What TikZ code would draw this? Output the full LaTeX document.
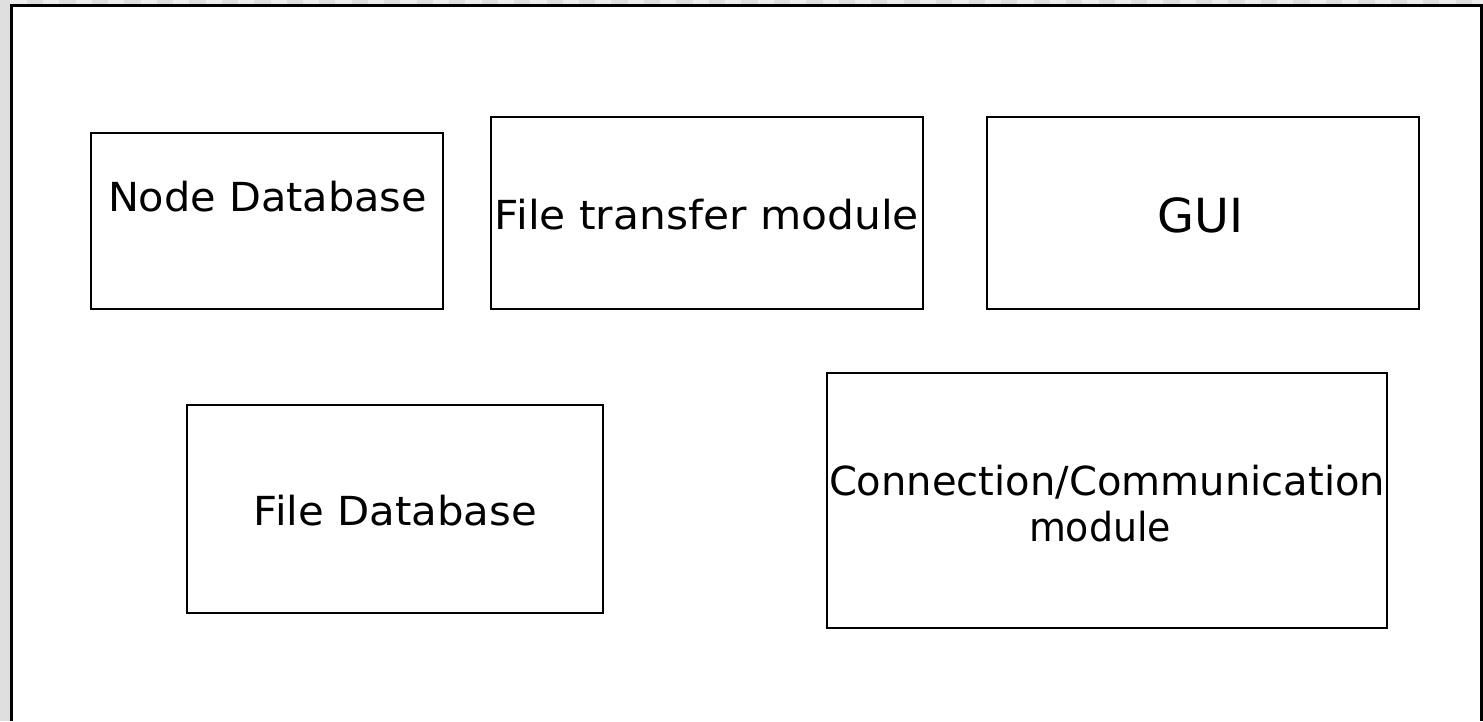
\documentclass[tikz,border=0pt]{standalone}
\usepackage{fontspec}
\usepackage{graphicx}
\newfontfamily\boxfont{DejaVu Sans}
% set a line of text at its natural height, stretched to a given width
\newcommand\linewd[2]{\resizebox{#1pt}{\height}{#2}}
\definecolor{chkdark}{HTML}{DEDEDE}
\definecolor{chklight}{HTML}{ECECEC}
\begin{document}
\begin{tikzpicture}[x=1pt,y=-1pt,
  module/.style={draw=black, line width=2.4pt, fill=white, rectangle, inner sep=0pt},
  lbl/.style={anchor=base, inner sep=0pt, font=\boxfont\fontsize{40}{48}\selectfont},
  biglbl/.style={anchor=base, inner sep=0pt, font=\boxfont\fontsize{47}{56}\selectfont}]
  \useasboundingbox (0,0) rectangle (1483,721);
  % canvas background with the checkered top strip and grey left strip
  \fill[white] (0,0) rectangle (1483,721);
  \fill[chklight] (0,0) rectangle (1483,4.5);
  \foreach \i in {0,...,45} {
    \fill[chkdark] ({27+32.47*\i},0) rectangle ({27+32.47*\i+16.24},4.5);
  }
  \fill[chkdark] (0,0) rectangle (10,721);
  % outer frame (open at the bottom)
  \coordinate (fbl) at (11.2,721);
  \coordinate (ftl) at (11.2,5.2);
  \coordinate (ftr) at (1481.6,5.2);
  \coordinate (fbr) at (1481.6,721);
  \draw[line width=2.8pt] (fbl) -- (ftl) -- (ftr) -- (fbr);

  % module boxes
  \node[module, minimum width=352pt, minimum height=176pt] (ndb) at (267,221) {};
  \node[module, minimum width=432pt, minimum height=192pt] (ftm) at (707,213) {};
  \node[module, minimum width=432pt, minimum height=192pt] (gui) at (1203,213) {};
  \node[module, minimum width=416pt, minimum height=208pt] (fdb) at (395,509) {};
  \node[module, minimum width=560pt, minimum height=255pt] (ccm) at (1107,500.5) {};

  % labels
  \node[lbl] (ndbt) at (267.5,211) {\linewd{319}{Node Database}};
  \node[lbl] (ftmt) at (707,229) {\linewd{424}{File transfer module}};
  \node[biglbl] (guit) at (1200.5,232) {\linewd{86}{GUI}};
  \node[lbl] (fdbt) at (395.5,525) {\linewd{283}{File Database}};
  \node[lbl] (ccmt) at (1107,495) {\linewd{556}{Connection/Communication}};
  \node[lbl] (ccmm) at (1100,541) {\linewd{142}{module}};
\end{tikzpicture}
\end{document}
